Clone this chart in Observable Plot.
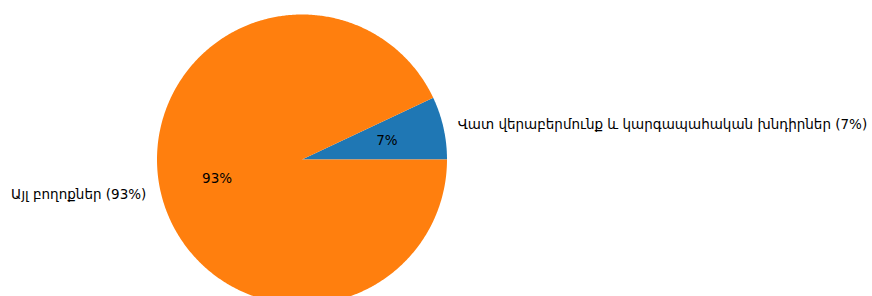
<!DOCTYPE html>
<html>
<head>
<meta charset="utf-8">
<script src="https://cdn.jsdelivr.net/npm/d3@7"></script>
<script src="https://cdn.jsdelivr.net/npm/@observablehq/plot@0.6"></script>
<style>
  html, body { margin: 0; padding: 0; background: #fff; }
  #chart svg { display: block; }
</style>
</head>
<body>
<div id="chart"></div>
<script>
const categories = ["Վատ վերաբերմունք և կարգապահական խնդիրներ", "Այլ բողոքներ"];
const values = [7, 93];
const colors = ["#1f77b4", "#ff7f0e"];

const W = 872, H = 296;
const cx = 301.5, cy = 159, R = 145;

const total = d3.sum(values);
let acc = 0;
const slices = categories.map((c, i) => {
  const a0 = acc / total * 2 * Math.PI;
  acc += values[i];
  const a1 = acc / total * 2 * Math.PI;
  return {category: c, value: values[i], a0, a1, color: colors[i], pct: Math.round(values[i] / total * 100)};
});

// wedge polygons in unit-radius coordinates
const wedgePts = [];
slices.forEach(s => {
  wedgePts.push({category: s.category, x: 0, y: 0});
  const n = Math.max(2, Math.ceil((s.a1 - s.a0) / (Math.PI / 360)));
  for (let k = 0; k <= n; k++) {
    const a = s.a0 + (s.a1 - s.a0) * k / n;
    wedgePts.push({category: s.category, x: Math.cos(a), y: Math.sin(a)});
  }
  wedgePts.push({category: s.category, x: 0, y: 0});
});

const outer = slices.map(s => {
  const m = (s.a0 + s.a1) / 2;
  return {x: 1.1 * Math.cos(m), y: 1.1 * Math.sin(m), text: `${s.category} (${s.pct}%)`, anchor: Math.cos(m) >= 0 ? "start" : "end"};
});
const inner = slices.map(s => {
  const m = (s.a0 + s.a1) / 2;
  return {x: 0.6 * Math.cos(m), y: 0.6 * Math.sin(m), text: `${s.pct}%`};
});

const font = "DejaVu Sans, sans-serif";
const fs = 13.5;

const chart = Plot.plot({
  width: W,
  height: H,
  margin: 0,
  style: {background: "#fff", fontFamily: font},
  x: {domain: [-cx / R, (W - cx) / R], range: [0, W], axis: null},
  y: {domain: [-(H - cy) / R, cy / R], range: [H, 0], axis: null},
  color: {domain: categories, range: colors},
  marks: [
    Plot.line(wedgePts, {x: "x", y: "y", z: "category", fill: "category", stroke: "none", curve: "linear"}),
    Plot.text(outer.filter(d => d.anchor === "start"), {x: "x", y: "y", text: "text", textAnchor: "start", fontSize: fs, fill: "#000", fontFamily: font}),
    Plot.text(outer.filter(d => d.anchor === "end"), {x: "x", y: "y", text: "text", textAnchor: "end", fontSize: fs, fill: "#000", fontFamily: font}),
    Plot.text(inner, {x: "x", y: "y", text: "text", textAnchor: "middle", fontSize: fs, fill: "#000", fontFamily: font})
  ]
});
document.getElementById("chart").appendChild(chart);
</script>
</body>
</html>
